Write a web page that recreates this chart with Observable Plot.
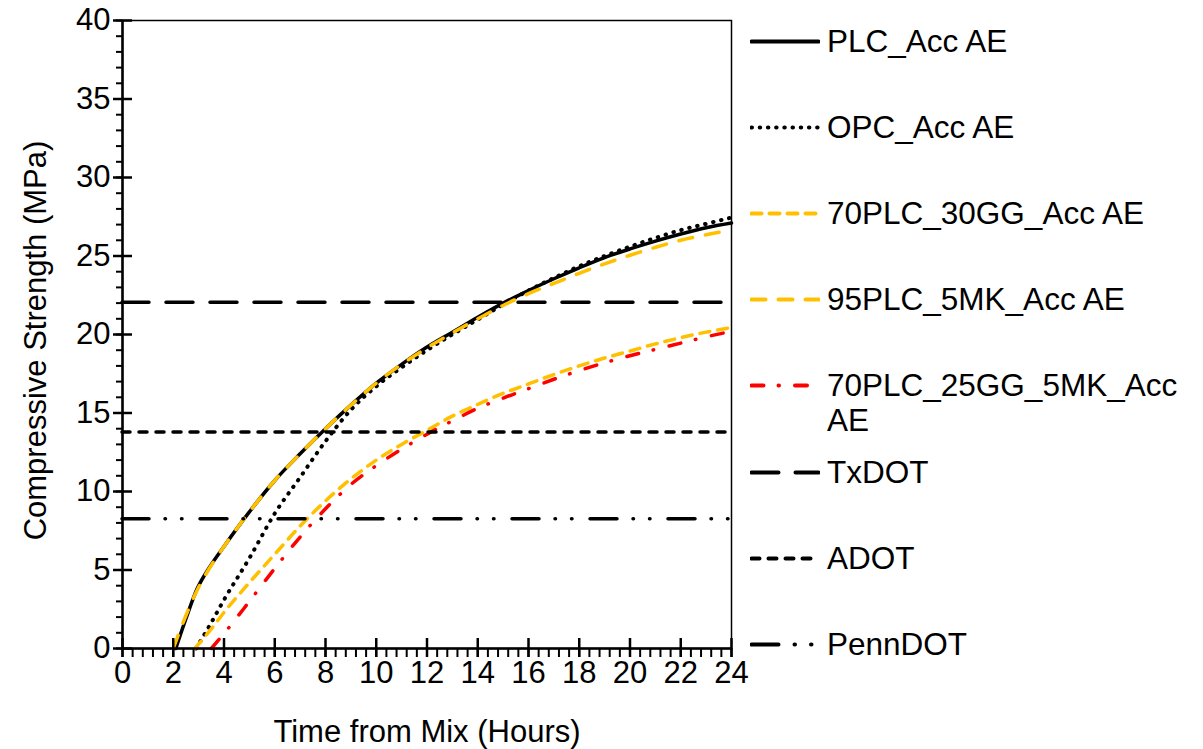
<!DOCTYPE html>
<html>
<head>
<meta charset="utf-8">
<script src="https://cdn.jsdelivr.net/npm/d3@7"></script>
<script src="https://cdn.jsdelivr.net/npm/@observablehq/plot@0.6"></script>
<style>
  html, body { margin: 0; padding: 0; background: #fff; }
  #wrap { position: relative; width: 1203px; height: 749px; font-family: "Liberation Sans", Arial, sans-serif; }
  #wrap svg.plot { display: block; }
  .row { position: absolute; left: 750px; display: flex; align-items: flex-start; }
  .row svg { display: block; flex: none; }
  .row .lab { margin-left: 7px; font-size: 31.5px; line-height: 35px; color: #000; width: 372px; }
</style>
</head>
<body>
<div id="wrap"></div>
<script>
// ---------- data ----------
const seriesNames = ["PLC_Acc AE", "OPC_Acc AE", "70PLC_30GG_Acc AE", "95PLC_5MK_Acc AE", "70PLC_25GG_5MK_Acc AE"];

const plcHours = [2.1, 2.5, 2.94, 3.4, 4, 5, 6, 7, 8, 9, 10, 11, 12, 13, 14, 15, 16, 17, 18, 19, 20, 21, 22, 23, 24];
const plcMPa   = [0, 1.9, 3.8, 5.1, 6.5, 8.7, 10.7, 12.4, 14.0, 15.5, 16.9, 18.1, 19.2, 20.15, 21.1, 22.0, 22.8, 23.55, 24.25, 24.9, 25.45, 25.95, 26.4, 26.8, 27.1];

const opcHours = [2.9, 3.5, 4, 5, 6, 7, 8, 9, 10, 11, 12, 13, 14, 15, 16, 17, 18, 19, 20, 21, 22, 23, 24];
const opcMPa   = [0, 1.65, 3.1, 5.75, 8.6, 10.9, 13.2, 15.2, 16.7, 17.9, 19.0, 20.0, 20.95, 21.9, 22.8, 23.6, 24.35, 25.0, 25.6, 26.15, 26.65, 27.05, 27.45];

const gg30Hours = [2.85, 3.5, 4, 5, 6, 7, 8, 9, 10, 11, 12, 13, 14, 15, 16, 17, 18, 19, 20, 21, 22, 23, 24];
const gg30MPa   = [0, 1.25, 2.3, 4.2, 6.0, 7.8, 9.4, 10.8, 12.0, 13.0, 13.9, 14.8, 15.55, 16.25, 16.85, 17.45, 18.0, 18.5, 18.95, 19.4, 19.8, 20.15, 20.45];

const mk5Hours = [2.0, 2.5, 3, 3.5, 4, 5, 6, 7, 8, 9, 10, 11, 12, 13, 14, 15, 16, 17, 18, 19, 20, 21, 22, 23, 24];
const mk5MPa   = [0, 2.1, 3.9, 5.3, 6.5, 8.7, 10.7, 12.4, 14.0, 15.5, 16.9, 18.1, 19.15, 20.1, 21.0, 21.85, 22.6, 23.25, 23.9, 24.5, 25.05, 25.55, 26.0, 26.35, 26.65];

const gg25mk5Hours = [3.5, 4, 5, 6, 7, 8, 9, 10, 11, 12, 13, 14, 15, 16, 17, 18, 19, 20, 21, 22, 23, 24];
const gg25mk5MPa   = [0, 0.95, 3.0, 5.1, 7.1, 8.9, 10.45, 11.65, 12.7, 13.65, 14.5, 15.3, 15.95, 16.55, 17.15, 17.7, 18.2, 18.65, 19.05, 19.45, 19.85, 20.2];

const limitNames = ["TxDOT", "ADOT", "PennDOT"];
const limitMPa   = [22.06, 13.79, 8.27];

const xTickValues = [0, 2, 4, 6, 8, 10, 12, 14, 16, 18, 20, 22, 24];
const yTickValues = [0, 5, 10, 15, 20, 25, 30, 35, 40];
const xTitle = "Time from Mix (Hours)";
const yTitle = "Compressive Strength (MPa)";

// ---------- styles ----------
const YELLOW = "#FFC000", RED = "#FF0000", BLACK = "#000000";
const seriesStyle = [
  {stroke: BLACK,  dash: null, width: 3.5},
  {stroke: BLACK,  dash: "0.5,7.7", width: 4},
  {stroke: YELLOW, dash: "10,8", width: 3.5},
  {stroke: YELLOW, dash: "14,13", width: 3.5},
  {stroke: RED,    dash: "12,15,0.5,16", width: 3.5}
];
const limitStyle = [
  {stroke: BLACK, dash: "27,17", width: 3.5},
  {stroke: BLACK, dash: "8,9", width: 3.5},
  {stroke: BLACK, dash: "27,16,0.5,16,0.5,18", width: 3.5}
];

const hoursList = [plcHours, opcHours, gg30Hours, mk5Hours, gg25mk5Hours];
const mpaList = [plcMPa, opcMPa, gg30MPa, mk5MPa, gg25mk5MPa];
const seriesData = seriesNames.map((name, i) =>
  hoursList[i].map((h, j) => ({series: name, hour: h, mpa: mpaList[i][j]})));

const xMinor = d3.range(0, 61).map(i => +(i * 0.4).toFixed(1));
const yMinor = d3.range(0, 41);
const blank = () => "";

const marks = [
  Plot.frame({stroke: BLACK, strokeWidth: 1.5}),
  ...seriesData.map((d, i) => Plot.line(d, {
    x: "hour", y: "mpa", stroke: seriesStyle[i].stroke, strokeWidth: seriesStyle[i].width,
    strokeDasharray: seriesStyle[i].dash, strokeLinecap: "round", curve: "monotone-x"
  })),
  ...limitMPa.map((v, i) => Plot.ruleY([v], {
    stroke: limitStyle[i].stroke, strokeWidth: limitStyle[i].width,
    strokeDasharray: limitStyle[i].dash, strokeLinecap: "round"
  })),
  Plot.ruleX([0], {stroke: BLACK, strokeWidth: 2.5}),
  Plot.ruleY([0], {stroke: BLACK, strokeWidth: 2.5}),
  Plot.axisY({ticks: yMinor, tickSize: 6, tickFormat: blank, label: null, strokeWidth: 2}),
  Plot.axisY({ticks: yTickValues, tickSize: 19, dx: 10, tickFormat: blank, label: null, strokeWidth: 2.5}),
  Plot.axisY({ticks: yTickValues, tickSize: 0, tickPadding: 12, fontSize: 31, label: null}),
  Plot.axisX({ticks: xMinor, tickSize: 9, tickFormat: blank, label: null, strokeWidth: 2}),
  Plot.axisX({ticks: xTickValues, tickSize: 19, dy: -10, tickFormat: blank, label: null, strokeWidth: 2.5}),
  Plot.axisX({ticks: xTickValues, tickSize: 0, tickPadding: 12, fontSize: 31, label: null}),
  Plot.text([xTitle], {text: d => d, frameAnchor: "bottom", textAnchor: "middle", dy: 93, lineAnchor: "bottom", fontSize: 31}),
  Plot.text([yTitle], {text: d => d, frameAnchor: "left", textAnchor: "middle", dx: -86, dy: 6, rotate: -90, lineAnchor: "middle", fontSize: 31})
];

const plot = Plot.plot({
  width: 1203, height: 749,
  marginLeft: 122, marginRight: 472, marginTop: 20, marginBottom: 101,
  style: {fontFamily: '"Liberation Sans", Arial, sans-serif', background: "white", color: "black", overflow: "visible"},
  x: {domain: [0, 24]},
  y: {domain: [0, 40]},
  marks
});
plot.classList.add("plot");
const wrap = document.getElementById("wrap");
wrap.appendChild(plot);

// ---------- legend (HTML beside the plot) ----------
const legendNames = [...seriesNames, ...limitNames];
const legendStyles = [...seriesStyle, ...limitStyle];
legendNames.forEach((name, i) => {
  const center = 40.7 + i * 86.2;
  const row = d3.select(wrap).append("div").attr("class", "row").style("top", (center - 17.1) + "px");
  const svg = row.append("svg").attr("width", 70).attr("height", 35);
  svg.append("line")
    .attr("x1", 1.5).attr("x2", 68.5).attr("y1", 17.5).attr("y2", 17.5)
    .attr("stroke", legendStyles[i].stroke).attr("stroke-width", 4)
    .attr("stroke-linecap", "round")
    .attr("stroke-dasharray", legendStyles[i].dash);
  row.append("div").attr("class", "lab").text(name);
});
</script>
</body>
</html>
